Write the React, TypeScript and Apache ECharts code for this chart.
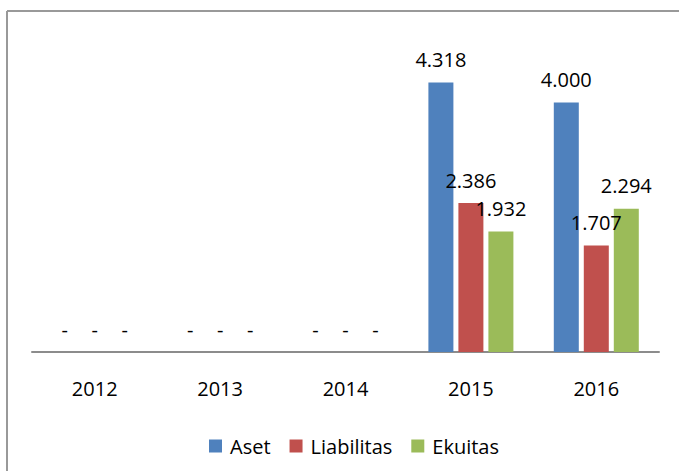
import React, { useEffect, useRef } from "react";
import * as echarts from "echarts";

const categories = ["2012", "2013", "2014", "2015", "2016"];
const seriesNames = ["Aset", "Liabilitas", "Ekuitas"];
const aset = [0, 0, 0, 4318, 4000];
const liabilitas = [0, 0, 0, 2386, 1707];
const ekuitas = [0, 0, 0, 1932, 2294];
const colors = ["#4F81BD", "#C0504D", "#9BBB59"];

const FONT = "Open Sans";

function fmt(v: number): string {
  if (!v) return "-";
  const s = Math.round(v).toString();
  return s.replace(/\B(?=(\d{3})+(?!\d))/g, ".");
}

export default function App() {
  const ref = useRef<HTMLDivElement>(null);
  useEffect(() => {
    if (!ref.current) return;
    const chart = echarts.init(ref.current, null, { renderer: "svg" });
    const values = [aset, liabilitas, ekuitas];
    chart.setOption({
      animation: false,
      backgroundColor: "#ffffff",
      textStyle: { fontFamily: FONT },
      grid: { left: 32, right: 20, top: 40, bottom: 119 },
      legend: {
        data: seriesNames,
        top: 431,
        left: 204,
        itemWidth: 13,
        itemHeight: 13,
        itemGap: 19,
        icon: "rect",
        textStyle: { fontFamily: FONT, fontSize: 20, color: "#000", padding: [0, 0, 0, 3] },
      },
      xAxis: {
        type: "category",
        data: categories,
        axisTick: { show: false },
        axisLine: { lineStyle: { color: "#8c8c8c", width: 2 } },
        axisLabel: { fontFamily: FONT, fontSize: 20, color: "#000", margin: 26 },
      },
      yAxis: {
        type: "value",
        min: 0,
        max: 5000,
        show: false,
        splitLine: { show: false },
      },
      series: seriesNames.map((name, i) => ({
        name,
        type: "bar",
        data: values[i],
        barWidth: 25,
        barGap: "20%",
        itemStyle: { color: colors[i] },
        label: {
          show: true,
          position: "top",
          distance: 13,
          fontFamily: FONT,
          fontSize: 20,
          color: "#000",
          formatter: (p: any) => fmt(p.value),
        },
      })),
      graphic: [
        {
          type: "line",
          shape: { x1: 7, y1: 11, x2: 679, y2: 11 },
          style: { stroke: "#999999", lineWidth: 2 },
          silent: true,
        },
        {
          type: "line",
          shape: { x1: 7, y1: 11, x2: 7, y2: 471 },
          style: { stroke: "#999999", lineWidth: 2 },
          silent: true,
        },
      ],
    });
    return () => chart.dispose();
  }, []);
  return (
    <div
      ref={ref}
      style={{ position: "absolute", left: 0, top: 0, width: 679, height: 471 }}
    />
  );
}
